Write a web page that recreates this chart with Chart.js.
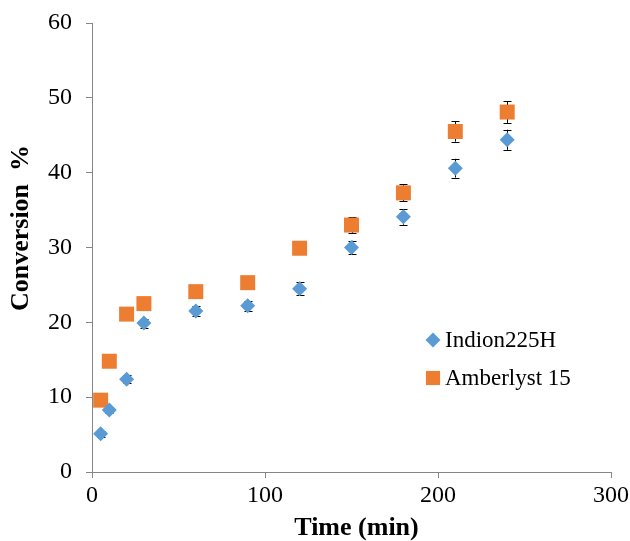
<!DOCTYPE html>
<html lang="en">
<head>
  <meta charset="UTF-8" />
  <title>Conversion vs Time</title>
  <script src="https://cdn.jsdelivr.net/npm/chart.js"></script>
  <style>
    body {
      margin: 0;
      background: #fff;
    }
    #wrap {
      width: 630px;
      height: 541px;
    }
  </style>
</head>
<body>
  <div id="wrap"><canvas id="chart" width="630" height="541"></canvas></div>

  <script>
    // time in minutes
    const times = [5, 10, 20, 30, 60, 90, 120, 150, 180, 210, 240];

    const indionValues = [5.1, 8.3, 12.4, 19.9, 21.5, 22.2, 24.5, 30.0, 34.1, 40.6, 44.4];
    const indionErrors = [0.4, 0.4, 0.5, 0.6, 0.7, 0.7, 0.9, 0.9, 1.05, 1.25, 1.35];

    const amberValues = [9.6, 14.8, 21.1, 22.5, 24.1, 25.3, 29.9, 33.0, 37.3, 45.5, 48.1];
    const amberErrors = [0.4, 0.5, 0.5, 0.5, 0.6, 0.6, 0.7, 1.05, 1.15, 1.35, 1.45];

    const xTicks = [0, 100, 200, 300];
    const yTicks = [0, 10, 20, 30, 40, 50, 60];

    const seriesNames = ["Indion225H", "Amberlyst 15"];
    const xTitle = "Time (min)";
    const yTitle = "Conversion  %";
    const blue = "#5B9BD5";
    const orange = "#ED7D31";
    const serif = "'Liberation Serif', 'Times New Roman', serif";

    function toPoints(values) {
      return times.map((t, i) => ({ x: t, y: values[i] }));
    }

    // error bars are drawn under the markers, like in Excel
    const errorBars = {
      id: "errorBars",
      beforeDatasetsDraw(chart) {
        const ctx = chart.ctx;
        const xs = chart.scales.x;
        const ys = chart.scales.y;
        const errs = [indionErrors, amberErrors];
        const vals = [indionValues, amberValues];
        ctx.save();
        ctx.strokeStyle = "#000";
        ctx.lineWidth = 1;
        errs.forEach((e, d) => {
          times.forEach((t, i) => {
            const px = Math.round(xs.getPixelForValue(t)) + 0.5;
            const top = ys.getPixelForValue(vals[d][i] + e[i]);
            const bot = ys.getPixelForValue(vals[d][i] - e[i]);
            ctx.beginPath();
            ctx.moveTo(px, top);
            ctx.lineTo(px, bot);
            ctx.moveTo(px - 4, Math.round(top) + 0.5);
            ctx.lineTo(px + 4, Math.round(top) + 0.5);
            ctx.moveTo(px - 4, Math.round(bot) + 0.5);
            ctx.lineTo(px + 4, Math.round(bot) + 0.5);
            ctx.stroke();
          });
        });
        ctx.restore();
      }
    };

    // legend inside the plot (lower right) and the two axis titles
    const extras = {
      id: "extras",
      afterDraw(chart) {
        const ctx = chart.ctx;
        const area = chart.chartArea;
        const rows = [
          { style: "rectRot", radius: 7.5, color: blue, y: 340 },
          { style: "rect", radius: 10, color: orange, y: 378 }
        ];
        ctx.save();
        ctx.font = "23px " + serif;
        ctx.textBaseline = "middle";
        ctx.textAlign = "left";
        rows.forEach((r, i) => {
          ctx.fillStyle = r.color;
          ctx.strokeStyle = r.color;
          Chart.helpers.drawPoint(ctx, { pointStyle: r.style, radius: r.radius, borderWidth: 0 }, 433, r.y);
          ctx.fillStyle = "#000";
          ctx.fillText(seriesNames[i], 445, r.y + 1);
        });

        ctx.font = "bold 26px " + serif;
        ctx.textAlign = "center";
        ctx.fillText(xTitle, (area.left + area.right) / 2 + 5, 528);

        ctx.translate(20, 228);
        ctx.rotate(-Math.PI / 2);
        ctx.fillText(yTitle, 0, 1);
        ctx.restore();
      }
    };

    new Chart(document.getElementById("chart"), {
      type: "scatter",
      data: {
        datasets: [
          {
            label: seriesNames[0],
            data: toPoints(indionValues),
            pointStyle: "rectRot",
            pointRadius: 7.5,
            pointHoverRadius: 7.5,
            backgroundColor: blue,
            borderColor: blue,
            borderWidth: 0
          },
          {
            label: seriesNames[1],
            data: toPoints(amberValues),
            pointStyle: "rect",
            pointRadius: 10.6,
            pointHoverRadius: 10.6,
            backgroundColor: orange,
            borderColor: orange,
            borderWidth: 0
          }
        ]
      },
      options: {
        responsive: false,
        animation: false,
        layout: { padding: { top: 23, right: 19, left: 0, bottom: 0 } },
        plugins: {
          legend: { display: false },
          tooltip: { enabled: false }
        },
        scales: {
          x: {
            type: "linear",
            min: 0,
            max: 300,
            afterBuildTicks(axis) {
              axis.ticks = xTicks.map(v => ({ value: v }));
            },
            afterFit(axis) {
              axis.height = 69;
              axis.paddingLeft = 0;
              axis.paddingRight = 0;
            },
            grid: {
              display: true,
              drawOnChartArea: false,
              drawTicks: true,
              tickLength: 6,
              color: "#868686"
            },
            border: { color: "#868686", width: 1 },
            ticks: {
              color: "#000",
              font: { family: serif, size: 24 },
              padding: 3,
              maxRotation: 0
            }
          },
          y: {
            min: 0,
            max: 60,
            afterBuildTicks(axis) {
              axis.ticks = yTicks.map(v => ({ value: v }));
            },
            afterFit(axis) {
              axis.width = 92;
              axis.paddingTop = 0;
              axis.paddingBottom = 0;
            },
            grid: {
              display: true,
              drawOnChartArea: false,
              drawTicks: true,
              tickLength: 6,
              color: "#868686"
            },
            border: { color: "#868686", width: 1 },
            ticks: {
              color: "#000",
              font: { family: serif, size: 24 },
              padding: 14
            }
          }
        }
      },
      plugins: [errorBars, extras]
    });
  </script>
</body>
</html>
